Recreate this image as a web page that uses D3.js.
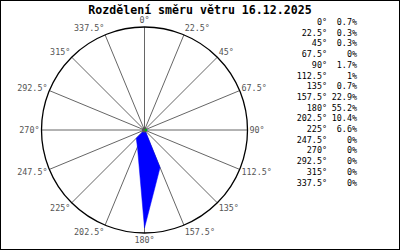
<!DOCTYPE html>
<html>
<head>
<meta charset="utf-8">
<script src="https://cdn.jsdelivr.net/npm/d3@7"></script>
<style>
  html, body { margin: 0; padding: 0; background: #fff; }
  svg { display: block; }
</style>
</head>
<body>
<svg id="chart" width="400" height="250"></svg>
<script>
// směry větru (stupně) a podíly (%)
const directions = [0, 22.5, 45, 67.5, 90, 112.5, 135, 157.5, 180, 202.5, 225, 247.5, 270, 292.5, 315, 337.5];
const percents = [0.7, 0.3, 0.3, 0, 1.7, 1, 0.7, 22.9, 55.2, 10.4, 6.6, 0, 0, 0, 0, 0];
const title = "Rozdělení směru větru 16.12.2025";

const W = 400, H = 250;
const cx = 144.5, cy = 130, R = 103;
const MONO = "'DejaVu Sans Mono', 'Liberation Mono', monospace";

const svg = d3.select("#chart");

// rámeček
svg.append("rect")
  .attr("x", 0.5).attr("y", 0.5)
  .attr("width", W - 1).attr("height", H - 1)
  .attr("fill", "#fff").attr("stroke", "#000");

// titulek
svg.append("text")
  .attr("x", 200).attr("y", 13.5)
  .attr("text-anchor", "middle")
  .attr("font-family", MONO)
  .attr("font-weight", "bold")
  .attr("font-size", 11.6)
  .attr("fill", "#000")
  .text(title);

const angle = d3.scaleLinear().domain([0, 360]).range([0, 2 * Math.PI]);
const radius = d3.scaleLinear().domain([0, d3.max(percents)]).range([0, 98]);

const g = svg.append("g").attr("transform", `translate(${cx},${cy})`);

// paprsky
g.selectAll("line.spoke")
  .data(directions)
  .join("line")
  .attr("class", "spoke")
  .attr("x1", 0).attr("y1", 0)
  .attr("x2", (d) => R * Math.sin(angle(d)))
  .attr("y2", (d) => -R * Math.cos(angle(d)))
  .attr("stroke", "#666")
  .attr("stroke-width", 1);

// kruh
g.append("circle")
  .attr("r", R)
  .attr("fill", "none")
  .attr("stroke", "#000")
  .attr("stroke-width", 1.3);

// popisky směrů
g.selectAll("text.dir")
  .data(directions)
  .join("text")
  .attr("class", "dir")
  .attr("x", (d) => (R + 2) * Math.sin(angle(d)))
  .attr("y", (d) => -(R + 2) * Math.cos(angle(d)) - 5 * Math.cos(angle(d)) + 3)
  .attr("text-anchor", (d) => {
    const s = Math.sin(angle(d));
    return s > 0.01 ? "start" : s < -0.01 ? "end" : "middle";
  })
  .attr("font-family", MONO)
  .attr("font-size", 8.4)
  .attr("fill", "#555")
  .text((d) => d + "°");

// polygon rozdělení
const rose = d3.lineRadial()
  .angle((d, i) => angle(directions[i]))
  .radius((d) => radius(d))
  .curve(d3.curveLinearClosed);

g.append("path")
  .attr("d", rose(percents))
  .attr("fill", "#0000ff")
  .attr("stroke", "#0000ff")
  .attr("stroke-width", 0.5);

// střed
g.append("circle").attr("r", 2.5).attr("fill", "#555");
g.append("rect").attr("x", 0.5).attr("y", -1).attr("width", 2).attr("height", 2).attr("fill", "#00c000");

// legenda
const rowY = (i) => 25 + i * 10.7;
const legend = svg.append("g")
  .attr("font-family", MONO)
  .attr("font-size", 8.4)
  .attr("fill", "#000");

legend.selectAll("text.deg")
  .data(directions)
  .join("text")
  .attr("class", "deg")
  .attr("x", 327)
  .attr("y", (d, i) => rowY(i))
  .attr("text-anchor", "end")
  .text((d) => d + "°");

legend.selectAll("text.pct")
  .data(percents)
  .join("text")
  .attr("class", "pct")
  .attr("x", 357)
  .attr("y", (d, i) => rowY(i))
  .attr("text-anchor", "end")
  .text((d) => d + "%");
</script>
</body>
</html>
